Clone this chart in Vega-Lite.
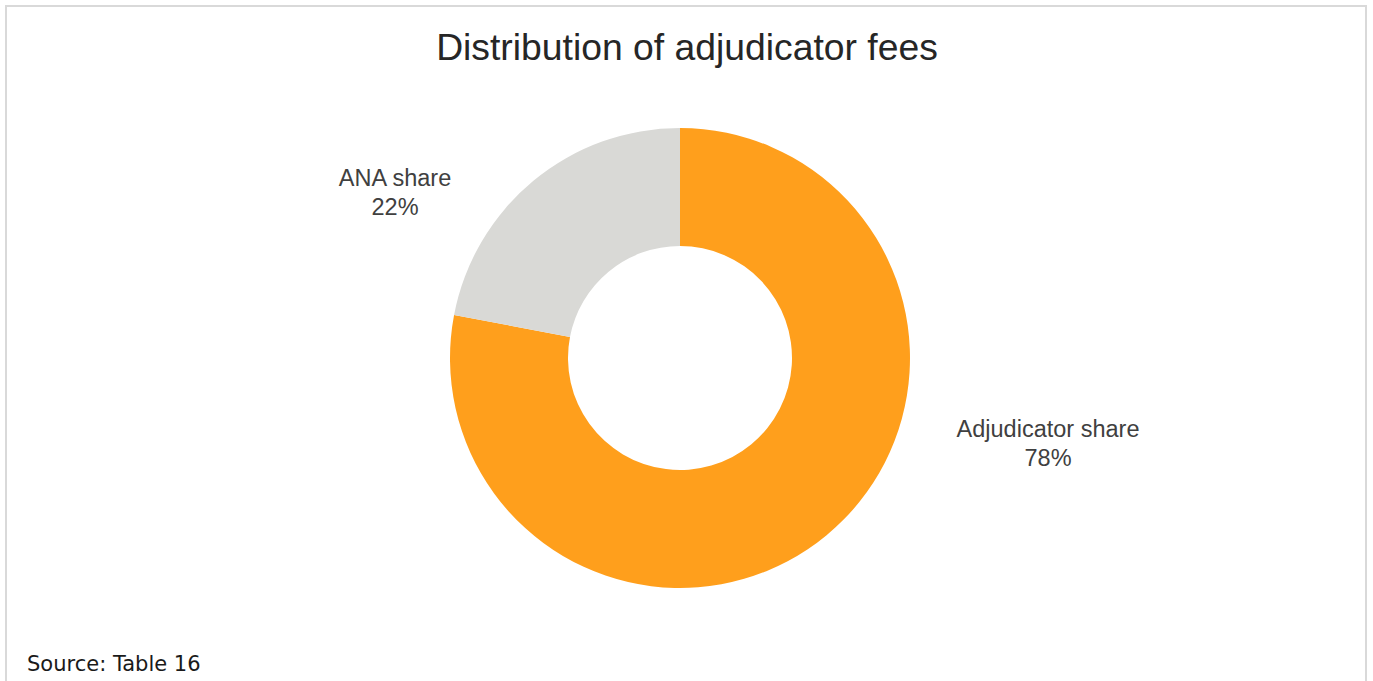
{
  "$schema": "https://vega.github.io/schema/vega-lite/v6.json",
  "width": 1348,
  "height": 704,
  "autosize": "none",
  "padding": {"left": 6, "top": 6, "right": 19, "bottom": 0},
  "background": "white",
  "config": {"view": {"stroke": null}},
  "title": {
    "text": "Distribution of adjudicator fees",
    "font": "Liberation Sans",
    "fontSize": 37.3,
    "fontWeight": "normal",
    "color": "#262626",
    "baseline": "alphabetic",
    "anchor": "middle",
    "offset": -92,
    "dx": 7
  },
  "data": {
    "values": [
      {"category": "Adjudicator share", "value": 78},
      {"category": "ANA share", "value": 22}
    ]
  },
  "layer": [
    {
      "data": {"values": [{"frame": "border"}]},
      "mark": {"type": "rect", "fillOpacity": 0, "fill": "white", "stroke": "#D9D9D9", "strokeWidth": 2, "x2Offset": 12},
      "encoding": {
        "x": {"value": 0},
        "x2": {"value": "width"},
        "y": {"value": 0},
        "y2": {"value": "height"}
      }
    },
    {
      "mark": {"type": "arc", "outerRadius": 230, "innerRadius": 112},
      "encoding": {
        "theta": {"field": "value", "type": "quantitative", "stack": true},
        "order": {"field": "value", "type": "quantitative", "sort": "descending"},
        "color": {
          "field": "category",
          "type": "nominal",
          "scale": {"domain": ["Adjudicator share", "ANA share"], "range": ["#FF9F1C", "#D9D9D6"]},
          "legend": null
        }
      }
    },
    {
      "transform": [{"calculate": "[datum.category, datum.value + '%']", "as": "label"}],
      "mark": {
        "type": "text",
        "radius": 336.5,
        "thetaOffset": -0.3189,
        "font": "Liberation Sans",
        "fontSize": 23.5,
        "lineHeight": 29,
        "align": "center",
        "baseline": "middle",
        "color": "#404040"
      },
      "encoding": {
        "theta": {"field": "value", "type": "quantitative", "stack": true},
        "order": {"field": "value", "type": "quantitative", "sort": "descending"},
        "text": {"condition": {"test": "datum.category === 'ANA share'", "field": "label"}, "value": ""}
      }
    },
    {
      "transform": [{"calculate": "[datum.category, datum.value + '%']", "as": "label"}],
      "mark": {
        "type": "text",
        "radius": 375,
        "thetaOffset": -0.6864,
        "font": "Liberation Sans",
        "fontSize": 23.5,
        "lineHeight": 29,
        "align": "center",
        "baseline": "middle",
        "color": "#404040"
      },
      "encoding": {
        "theta": {"field": "value", "type": "quantitative", "stack": true},
        "order": {"field": "value", "type": "quantitative", "sort": "descending"},
        "text": {"condition": {"test": "datum.category === 'Adjudicator share'", "field": "label"}, "value": ""}
      }
    },
    {
      "data": {"values": [{"note": "Source: Table 16"}]},
      "mark": {
        "type": "text",
        "x": 21,
        "y": 665,
        "align": "left",
        "baseline": "alphabetic",
        "font": "DejaVu Sans",
        "fontSize": 21,
        "color": "#1A1A1A"
      },
      "encoding": {"text": {"field": "note"}}
    }
  ]
}
